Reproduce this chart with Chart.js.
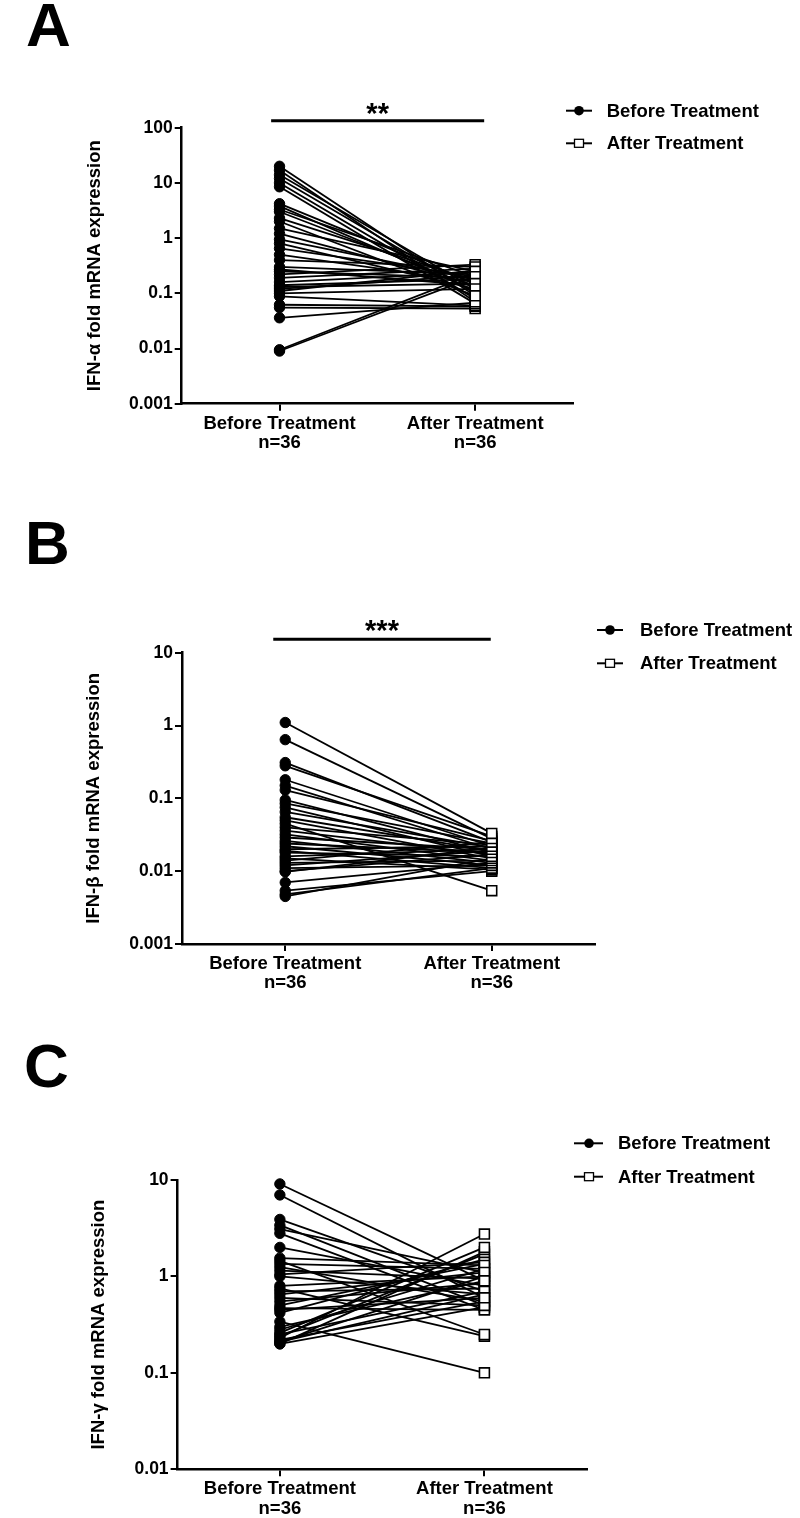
<!DOCTYPE html>
<html>
<head>
<meta charset="utf-8">
<script src="https://cdn.jsdelivr.net/npm/chart.js@4.4.1/dist/chart.umd.min.js"></script>
<style>
  body { margin: 0; background: #fff; }
  #wrap { position: relative; width: 800px; height: 1518px; overflow: hidden; }
  canvas { position: absolute; left: 0; }
  .letter { position: absolute; font: bold 62px "Liberation Sans", Arial, sans-serif; line-height: 1; color: #000; }
</style>
</head>
<body>
<div id="wrap">
  <canvas id="chartA" width="800" height="506" style="top:0px"></canvas>
  <canvas id="chartB" width="800" height="506" style="top:506px"></canvas>
  <canvas id="chartC" width="800" height="506" style="top:1012px"></canvas>
  <div class="letter" style="left:26px;top:-6px">A</div>
  <div class="letter" style="left:25px;top:512px">B</div>
  <div class="letter" style="left:24px;top:1035px">C</div>
</div>
<script>
const groups = [['Before Treatment', 'n=36'], ['After Treatment', 'n=36']];
const legendNames = ['Before Treatment', 'After Treatment'];

// IFN-alpha, one entry per patient
const alphaBefore = [20, 17, 14, 12, 10, 8.5, 4.2, 3.8, 3.3, 3.0, 2.3, 2.0, 1.5, 1.2, 0.95, 0.8, 0.65, 0.5,
  0.4, 0.3, 0.27, 0.25, 0.22, 0.19, 0.16, 0.14, 0.13, 0.12, 0.11, 0.1, 0.088, 0.062, 0.055, 0.036, 0.0095, 0.009];
const alphaAfter = [0.09, 0.07, 0.12, 0.1, 0.08, 0.065, 0.15, 0.11, 0.2, 0.13, 0.17, 0.09, 0.25, 0.14, 0.18, 0.12, 0.2, 0.16,
  0.3, 0.22, 0.14, 0.19, 0.33, 0.28, 0.24, 0.18, 0.15, 0.21, 0.26, 0.12, 0.06, 0.058, 0.053, 0.068, 0.23, 0.2];

// IFN-beta
const betaBefore = [1.1, 0.64, 0.31, 0.28, 0.18, 0.15, 0.13, 0.095, 0.085, 0.075, 0.065, 0.055, 0.05, 0.045, 0.04, 0.036, 0.032, 0.029,
  0.026, 0.024, 0.022, 0.02, 0.019, 0.018, 0.016, 0.015, 0.014, 0.013, 0.012, 0.011, 0.01, 0.0098, 0.007, 0.0054, 0.0048, 0.0045];
const betaAfter = [0.033, 0.028, 0.025, 0.03, 0.022, 0.02, 0.026, 0.018, 0.024, 0.016, 0.021, 0.019, 0.015, 0.0054, 0.023, 0.017, 0.014, 0.02,
  0.013, 0.018, 0.012, 0.022, 0.011, 0.016, 0.02, 0.0105, 0.025, 0.014, 0.019, 0.012, 0.017, 0.021, 0.013, 0.01, 0.011, 0.015];

// IFN-gamma
const gammaBefore = [9.1, 7.0, 3.9, 3.4, 3.1, 2.8, 2.0, 1.55, 1.45, 1.35, 1.25, 1.15, 1.05, 1.0, 0.8, 0.75, 0.7, 0.65,
  0.6, 0.55, 0.5, 0.47, 0.45, 0.42, 0.34, 0.3, 0.28, 0.26, 0.25, 0.24, 0.23, 0.22, 0.21, 0.21, 0.2, 0.2];
const gammaAfter = [0.9, 0.6, 0.7, 0.5, 1.1, 0.45, 0.8, 1.3, 0.25, 1.2, 0.55, 0.95, 1.4, 0.65, 1.0, 0.24, 0.75, 1.1,
  0.5, 0.85, 1.35, 0.45, 0.6, 1.5, 0.1, 0.9, 1.2, 2.0, 0.7, 1.7, 2.75, 0.55, 1.0, 0.65, 1.8, 0.48];

const alphaTicks = [0.001, 0.01, 0.1, 1, 10, 100];
const betaTicks = [0.001, 0.01, 0.1, 1, 10];
const gammaTicks = [0.01, 0.1, 1, 10];

const FONT = '"Liberation Sans", Arial, sans-serif';

// draws the significance bar and the two-row legend (line + marker + name)
const extras = {
  id: 'extras',
  afterDraw(chart, args, opts) {
    const ctx = chart.ctx;
    ctx.save();
    ctx.fillStyle = '#000';
    ctx.strokeStyle = '#000';
    if (opts.sig) {
      const xs = chart.scales.x;
      const x0 = xs.getPixelForValue(0) - opts.sig.padL;
      const x1 = xs.getPixelForValue(1) + opts.sig.padR;
      ctx.lineWidth = 3;
      ctx.beginPath();
      ctx.moveTo(x0, opts.sig.y);
      ctx.lineTo(x1, opts.sig.y);
      ctx.stroke();
      ctx.font = 'bold 29px ' + FONT;
      ctx.textAlign = 'center';
      ctx.textBaseline = 'alphabetic';
      ctx.fillText(opts.sig.text, (x0 + x1) / 2, opts.sig.starY);
    }
    const lg = opts.legend;
    legendNames.forEach((name, i) => {
      const y = lg.y + i * lg.gap;
      ctx.lineWidth = 2;
      ctx.beginPath();
      ctx.moveTo(lg.x, y);
      ctx.lineTo(lg.x + lg.len, y);
      ctx.stroke();
      if (i === 0) {
        ctx.beginPath();
        ctx.arc(lg.mx, y, 4.8, 0, Math.PI * 2);
        ctx.fill();
      } else {
        ctx.fillStyle = '#fff';
        ctx.fillRect(lg.mx - 4.5, y - 4, 9, 8);
        ctx.fillStyle = '#000';
        ctx.lineWidth = 1.3;
        ctx.strokeRect(lg.mx - 4.5, y - 4, 9, 8);
      }
      ctx.font = 'bold 18.5px ' + FONT;
      ctx.textAlign = 'left';
      ctx.textBaseline = 'middle';
      ctx.fillText(name, lg.tx, y + 1);
    });
    ctx.restore();
  }
};

function makeChart(id, before, after, ticks, yTitle, box, sig, legend) {
  const datasets = before.map((b, i) => ({
    data: [b, after[i]],
    borderColor: '#000',
    borderWidth: 1.8,
    tension: 0,
    clip: false,
    pointStyle: ['circle', 'rect'],
    pointRadius: [5.2, 7],
    pointBackgroundColor: ['#000', '#fff'],
    pointBorderColor: '#000',
    pointBorderWidth: [1, 1.6]
  }));

  new Chart(document.getElementById(id), {
    type: 'line',
    data: { labels: groups, datasets: datasets },
    options: {
      responsive: false,
      animation: false,
      devicePixelRatio: 1,
      layout: {
        padding: { left: 0, right: 800 - box.right, top: box.top, bottom: 506 - box.bottom - 45 }
      },
      plugins: {
        legend: { display: false },
        tooltip: { enabled: false },
        extras: { sig: sig, legend: legend }
      },
      scales: {
        x: {
          type: 'category',
          offset: true,
          afterFit: (s) => { s.height = 45; },
          ticks: { color: '#000', padding: 3, maxRotation: 0, font: { family: FONT, size: 18.5, weight: 'bold', lineHeight: 1.05 } },
          grid: { display: true, drawOnChartArea: false, drawTicks: true, tickLength: 7, color: '#000', lineWidth: 2 },
          border: { display: true, color: '#000', width: 2.5 }
        },
        y: {
          type: 'logarithmic',
          min: ticks[0],
          max: ticks[ticks.length - 1],
          afterBuildTicks: (s) => { s.ticks = ticks.map(v => ({ value: v })); },
          afterFit: (s) => { s.width = box.left; },
          ticks: { color: '#000', padding: 2, font: { family: FONT, size: 17.5, weight: 'bold' }, callback: (v) => String(v) },
          grid: { display: true, drawOnChartArea: false, drawTicks: true, tickLength: 7, color: '#000', lineWidth: 2 },
          border: { display: true, color: '#000', width: 2.5 },
          title: { display: true, text: yTitle, color: '#000', font: { family: FONT, size: 18.5, weight: 'bold' }, padding: { top: box.titleX - 11.1, bottom: 0 } }
        }
      }
    },
    plugins: [extras]
  });
}

makeChart('chartA', alphaBefore, alphaAfter, alphaTicks, 'IFN-α fold mRNA expression',
  { left: 181.7, right: 573, top: 127.7, bottom: 403.7, titleX: 95 },
  { text: '**', y: 120.7, padL: 8.4, padR: 9, starY: 123 },
  { x: 566, len: 26, mx: 579, tx: 606.7, y: 110.7, gap: 32.6 });

makeChart('chartB', betaBefore, betaAfter, betaTicks, 'IFN-β fold mRNA expression',
  { left: 182, right: 595, top: 146.7, bottom: 438, titleX: 93.5 },
  { text: '***', y: 133.3, padL: 12, padR: -1, starY: 134 },
  { x: 597, len: 26, mx: 610, tx: 640, y: 124, gap: 33.3 });

makeChart('chartC', gammaBefore, gammaAfter, gammaTicks, 'IFN-γ fold mRNA expression',
  { left: 177.6, right: 586.7, top: 168, bottom: 457.3, titleX: 99 },
  null,
  { x: 574, len: 29, mx: 589, tx: 618, y: 131.3, gap: 33.4 });
</script>
</body>
</html>
